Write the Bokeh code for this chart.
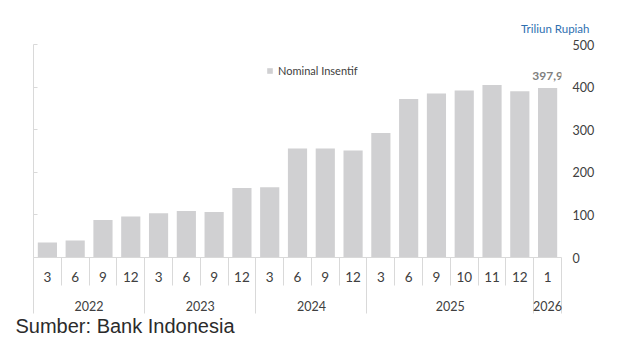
from bokeh.plotting import figure
from bokeh.models import (Range1d, LinearAxis, FixedTicker, Legend, LegendItem,
                          Title, ColumnDataSource)
from bokeh.core.properties import value
from bokeh.embed import file_html
from bokeh.resources import INLINE

# ---- data ----
months = ["3", "6", "9", "12", "3", "6", "9", "12", "3", "6", "9", "12",
          "3", "6", "9", "10", "11", "12", "1"]
years = [2022, 2022, 2022, 2022, 2023, 2023, 2023, 2023, 2024, 2024, 2024, 2024,
         2025, 2025, 2025, 2025, 2025, 2025, 2026]
nominal = [35, 40, 88, 96, 104, 109, 107, 163, 165, 256, 256, 251,
           292, 372, 385, 392, 405, 390, 397.9]
y_ticks = [0, 100, 200, 300, 400, 500]
series_name = "Nominal Insentif"
unit_label = "Triliun Rupiah"
source_label = "Sumber: Bank Indonesia"

n = len(nominal)
idx = list(range(n))

# year groups derived from data
groups = []
for i, yv in enumerate(years):
    if not groups or groups[-1][0] != yv:
        groups.append([yv, i, i])
    else:
        groups[-1][2] = i
year_centers = [(g[1] + g[2]) / 2 for g in groups]
year_bounds = [groups[0][1] - 0.5] + [g[2] + 0.5 for g in groups]
month_bounds = [i - 0.5 for i in idx] + [n - 0.5]

GRID = "#d9d9d9"
TXT = "#404040"
FONT = "Lato"

p = figure(width=635, height=338, output_backend="svg", toolbar_location=None,
           x_range=Range1d(-0.5, n - 0.5), y_range=Range1d(0, 500),
           min_border_left=33, min_border_right=74, min_border_top=44,
           min_border_bottom=81, x_axis_type=None, y_axis_type=None)
p.outline_line_color = None
p.xgrid.visible = False
p.ygrid.visible = False
p.background_fill_color = "white"
p.border_fill_color = "white"

src = ColumnDataSource(dict(x=idx, top=nominal))
bars = p.vbar(x="x", top="top", width=0.69, source=src,
              fill_color="#d0d0d2", line_color=None)

# last value label
last_src = ColumnDataSource(dict(x=[idx[-1]], y=[nominal[-1]],
                                 t=[f"{nominal[-1]:.1f}".replace(".", ",")]))
p.text(x="x", y="y", text="t", source=last_src, text_align="center",
       text_baseline="bottom", y_offset=-8, text_font=value(FONT),
       text_font_style="bold", text_font_size="12px", text_color="#808080")

# left axis: line + inward ticks, labels not drawn
left = LinearAxis(ticker=FixedTicker(ticks=y_ticks))
left.axis_line_color = GRID
left.major_tick_line_color = GRID
left.major_tick_in = 4
left.major_tick_out = 0
left.minor_tick_line_color = None
left.major_label_text_color = None
left.major_label_standoff = 0
p.add_layout(left, "left")

# right axis: labels only
right = LinearAxis(ticker=FixedTicker(ticks=y_ticks))
right.axis_line_color = None
right.major_tick_line_color = None
right.minor_tick_line_color = None
right.major_tick_in = 0
right.major_tick_out = 0
right.major_label_standoff = 11
right.major_label_text_font = FONT
right.major_label_text_font_size = "12.5px"
right.major_label_text_color = TXT
p.add_layout(right, "right")

# unit title above the right axis
p.add_layout(Title(text=unit_label, align="right", offset=-28, standoff=20,
                   text_font=FONT, text_font_size="11.5px",
                   text_font_style="normal", text_color="#2e6fb0"), "above")

# month axis
xa = LinearAxis(ticker=FixedTicker(ticks=idx, minor_ticks=month_bounds),
                major_label_overrides={i: m for i, m in enumerate(months)})
xa.axis_line_color = GRID
xa.major_tick_line_color = None
xa.major_tick_in = 0
xa.major_tick_out = 0
xa.minor_tick_line_color = GRID
xa.minor_tick_in = 0
xa.minor_tick_out = 28
xa.major_label_standoff = -14
xa.major_label_text_font = FONT
xa.major_label_text_font_size = "13.5px"
xa.major_label_text_color = TXT
p.add_layout(xa, "below")

# year axis
ya = LinearAxis(ticker=FixedTicker(ticks=year_centers, minor_ticks=year_bounds),
                major_label_overrides={c: str(g[0]) for c, g in zip(year_centers, groups)})
ya.axis_line_color = None
ya.major_tick_line_color = None
ya.major_tick_in = 0
ya.major_tick_out = 0
ya.minor_tick_line_color = GRID
ya.minor_tick_in = 0
ya.minor_tick_out = 29
ya.major_label_standoff = -13
ya.major_label_text_font = FONT
ya.major_label_text_font_size = "12.5px"
ya.major_label_text_color = TXT
p.add_layout(ya, "below")

# source note
p.add_layout(Title(text=source_label, align="left", offset=-18, standoff=-2,
                   text_font="Liberation Sans", text_font_size="20px",
                   text_font_style="normal", text_color="#2b2b2b"), "below")

legend = Legend(items=[LegendItem(label=series_name, renderers=[bars])],
                location=(233, 180), glyph_width=7, glyph_height=7,
                label_standoff=5, padding=0, margin=0, spacing=0,
                border_line_color=None, background_fill_alpha=0,
                label_text_font=FONT, label_text_font_size="11px",
                label_text_color=TXT, label_height=13)
p.add_layout(legend)

open("out.html", "w").write(file_html(p, INLINE))
